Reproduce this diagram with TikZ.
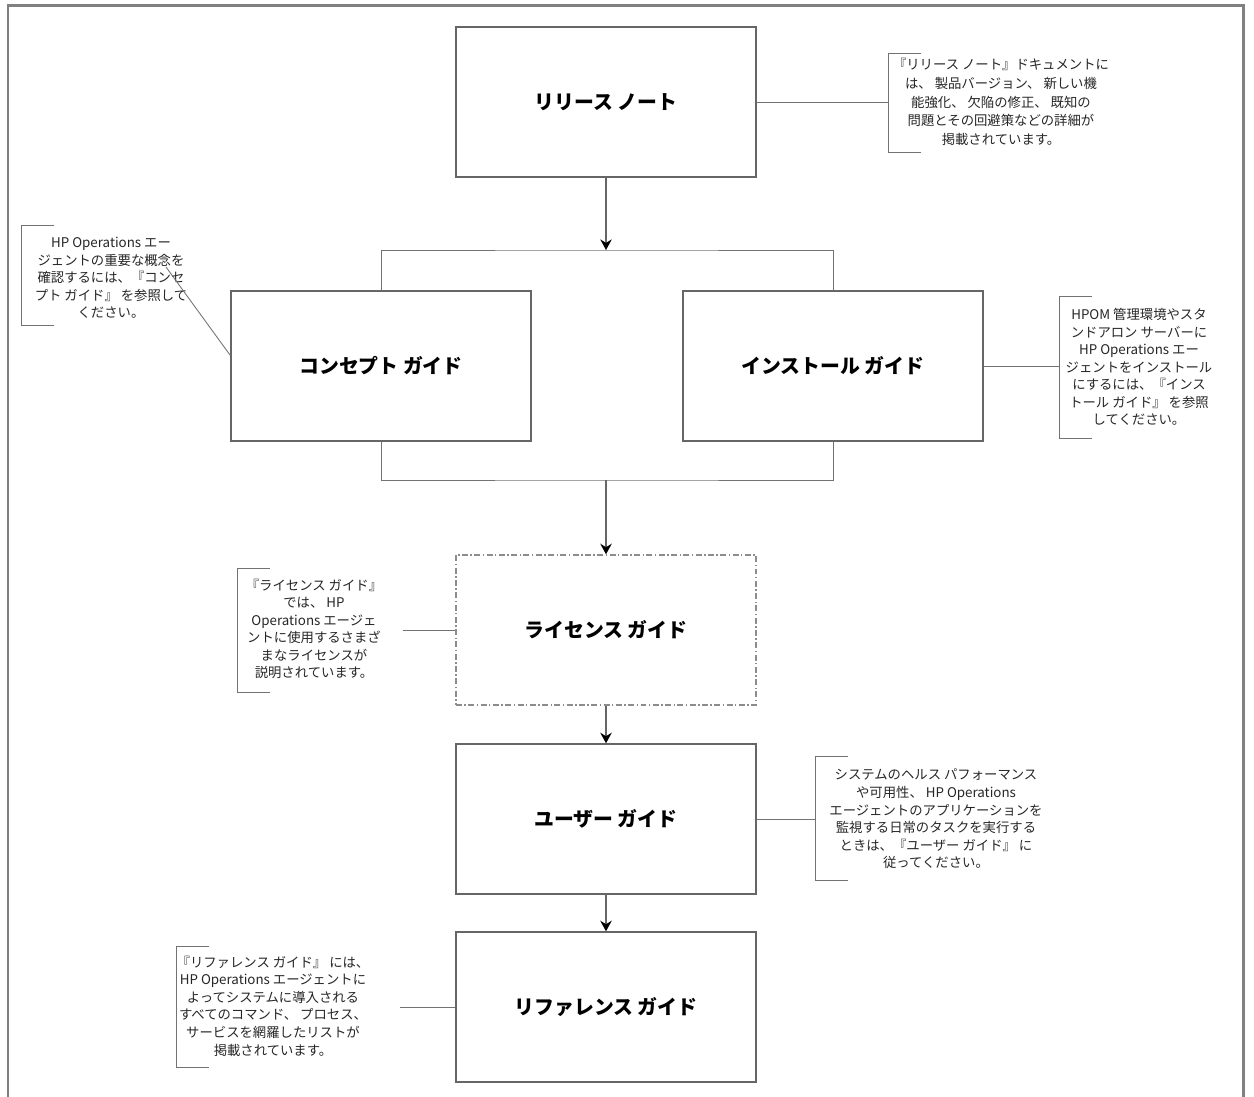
\documentclass[tikz,border=0pt]{standalone}
\usepackage{fontspec}
\setmainfont{Noto Sans CJK JP}
\usetikzlibrary{arrows,arrows.meta,positioning}

\begin{document}
\begin{tikzpicture}[x=0.02cm,y=-0.02cm,
  guide/.style={draw=black!60,line width=0.8pt,minimum width=6cm,minimum height=3cm,
    font=\bfseries\fontsize{11.3}{13}\selectfont},
  note/.style={align=center,inner sep=0pt,text=black!85,font=\fontsize{7.6}{10}\selectfont},
  callout/.style={draw=black!55,line width=0.5pt},
  flow/.style={draw=black!60,line width=1pt,->,>={Stealth[length=6pt,width=6.5pt,black]}}]

\useasboundingbox (0,0) rectangle (1254,1097);

% Rahmen
\draw [black!50,line width=1.7pt] (8,1100) -- (8,6) -- (1243,6) -- (1243,1100);

% Dokumente
\node [guide] (rel) at (606,102) {リリース ノート};
\node [guide] (con) at (381,366) {コンセプト ガイド};
\node [guide] (ins) at (833,366) {インストール ガイド};
\node [guide,draw=black!45,dash pattern=on 3.4pt off 1.4pt on 0.8pt off 1.4pt] (lic) at (606,630) {ライセンス ガイド};
\node [guide] (usr) at (606,819) {ユーザー ガイド};
\node [guide] (ref) at (606,1007) {リファレンス ガイド};

% Verzweigung
\coordinate (split) at (606,250);
\coordinate (join) at (606,480);
\draw [flow] (rel) -- (split);
\draw [callout] (con.north) |- (split) -| (ins.north);
\draw [callout] (con.south) |- (join) -| (ins.south);
\draw [flow] (join) -- (lic.north);
\draw [flow] (lic) -- (usr);
\draw [flow] (usr) -- (ref);

% Hinweis Release Notes
\node [note,font=\fontsize{7.6}{10.6}\selectfont] (relnote) at (1001,102) {『リリース ノート』ドキュメントに\\は、 製品バージョン、 新しい機\\能強化、 欠陥の修正、 既知の\\問題とその回避策などの詳細が\\掲載されています。};
\coordinate (relpin) at (888,102);
\draw [callout] (921,53) -- (888,53) -- (888,152) -- (921,152);
\draw [callout] (rel.east) -- (relpin);

% Hinweis Konzept
\node [note] (connote) at (111,278) {HP Operations エー\\ジェントの重要な概念を\\確認するには、『コンセ\\プト ガイド』 を参照して\\ください。};
\coordinate (conpin) at (166,267);
\draw [callout] (54,225) -- (21,225) -- (21,325) -- (54,325);
\draw [callout] (conpin) -- (con.176);

% Hinweis Installation
\node [note] (insnote) at (1139,367) {HPOM 管理環境やスタ\\ンドアロン サーバーに\\HP Operations エー\\ジェントをインストール\\にするには、『インス\\トール ガイド』 を参照\\してください。};
\coordinate (inspin) at (1059,366);
\draw [callout] (1092,296) -- (1059,296) -- (1059,438) -- (1092,438);
\draw [callout] (ins.east) -- (inspin);

% Hinweis Lizenz
\node [note] (licnote) at (314,629) {『ライセンス ガイド』\\では、 HP\\Operations エージェ\\ントに使用するさまざ\\まなライセンスが\\説明されています。};
\coordinate (licpin) at (403,630);
\draw [callout] (270,568) -- (237,568) -- (237,692) -- (270,692);
\draw [callout] (licpin) -- (lic.west);

% Hinweis Benutzer
\node [note] (usrnote) at (936,819) {システムのヘルス パフォーマンス\\や可用性、 HP Operations\\エージェントのアプリケーションを\\監視する日常のタスクを実行する\\ときは、『ユーザー ガイド』 に\\従ってください。};
\coordinate (usrpin) at (815,819);
\draw [callout] (848,756) -- (815,756) -- (815,880) -- (848,880);
\draw [callout] (usr.east) -- (usrpin);

% Hinweis Referenz
\node [note] (refnote) at (273,1006) {『リファレンス ガイド』 には、\\HP Operations エージェントに\\よってシステムに導入される\\すべてのコマンド、 プロセス、\\サービスを網羅したリストが\\掲載されています。};
\coordinate (refpin) at (400,1007);
\draw [callout] (209,946) -- (176,946) -- (176,1067) -- (209,1067);
\draw [callout] (refpin) -- (ref.west);

\end{tikzpicture}
\end{document}
